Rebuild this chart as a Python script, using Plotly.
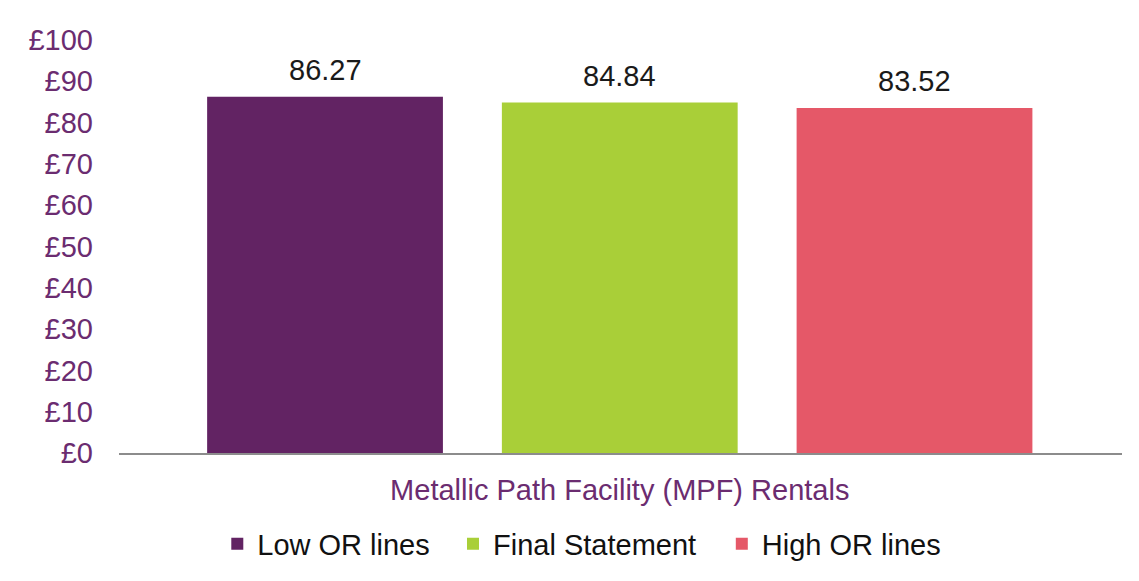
import plotly.graph_objects as go

# Series shown on the chart
series_names = ["Low OR lines", "Final Statement", "High OR lines"]
series_values = [86.27, 84.84, 83.52]
series_colors = ["#622363", "#A9CF38", "#E55868"]

category_label = "Metallic Path Facility (MPF) Rentals"
y_ticks = list(range(0, 101, 10))
y_tick_labels = [f"£{v}" for v in y_ticks]

# Left edge (paper fraction) of each legend entry along the bottom row
legend_x = [0.098, 0.333, 0.601]

FONT = "Liberation Sans, Arial, sans-serif"
PURPLE_TEXT = "#6B2C70"
FS = 29

legend_ids = ["legend", "legend2", "legend3"]

fig = go.Figure()
for i, (name, val, col) in enumerate(zip(series_names, series_values, series_colors)):
    fig.add_trace(go.Bar(
        x=[i], y=[val], name=name, width=0.8,
        marker=dict(color=col, line=dict(width=0)),
        hoverinfo="skip",
        legend=legend_ids[i],
    ))
    fig.add_annotation(
        x=i, y=val, text=f"{val:.2f}", showarrow=False,
        yshift=27, yanchor="middle",
        font=dict(family=FONT, size=FS, color="#1a1a1a"),
    )

legend_common = dict(
    orientation="h", xanchor="left", y=-0.22, yanchor="middle",
    font=dict(family=FONT, size=FS, color="#111111"),
    itemclick=False, itemdoubleclick=False,
    bgcolor="rgba(0,0,0,0)",
)

fig.update_layout(
    width=1139, height=581,
    margin=dict(l=119, r=17, t=40, b=128),
    paper_bgcolor="white", plot_bgcolor="white",
    showlegend=True,
    legend=dict(x=legend_x[0], **legend_common),
    legend2=dict(x=legend_x[1], **legend_common),
    legend3=dict(x=legend_x[2], **legend_common),
    xaxis=dict(
        range=[-0.699, 2.704],
        tickvals=[1], ticktext=[category_label],
        tickfont=dict(family=FONT, size=FS, color=PURPLE_TEXT),
        showgrid=False, zeroline=False,
        showline=True, linecolor="#8C8C8C", linewidth=2,
        ticks="", ticklabelstandoff=10,
        fixedrange=True,
    ),
    yaxis=dict(
        range=[0, 100],
        tickvals=y_ticks, ticktext=y_tick_labels,
        tickfont=dict(family=FONT, size=FS, color=PURPLE_TEXT),
        showgrid=False, zeroline=False, showline=False,
        ticks="", ticklabelstandoff=25,
        fixedrange=True,
    ),
)

fig.write_html("out.html", config={"displayModeBar": False})
